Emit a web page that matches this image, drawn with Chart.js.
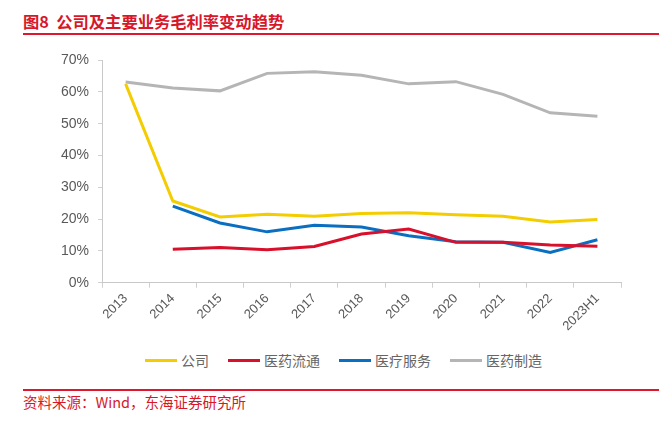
<!DOCTYPE html>
<html>
<head>
<meta charset="utf-8">
<script src="https://cdn.jsdelivr.net/npm/chart.js@4.4.0/dist/chart.umd.min.js"></script>
<style>
  body { margin: 0; width: 659px; height: 421px; background: #fff; position: relative; overflow: hidden;
         font-family: "Noto Sans CJK SC", "Liberation Sans", sans-serif; }
  #title { position: absolute; left: 23px; top: 10px; font-size: 16.3px; font-weight: bold; color: #d7182a; line-height: 22px; white-space: nowrap; }
  #topline { position: absolute; left: 23px; right: 0; top: 33px; height: 2px; background: #e0182f; }
  #bottomline { position: absolute; left: 23px; right: 0; top: 389px; height: 2px; background: #e0182f; }
  #source { position: absolute; left: 23px; top: 392px; font-size: 14.5px; line-height: 20px; color: #d7182a; white-space: nowrap; }
  #wrap { position: absolute; left: 0; top: 40px; width: 659px; height: 300px; }
  #legend { position: absolute; left: 145px; top: 350px; height: 20px; display: flex; align-items: center; white-space: nowrap; }
  .item { display: flex; align-items: center; margin-right: 19px; font-size: 14px; color: #666; }
  .swatch { width: 32px; height: 3px; margin-right: 4px; }
</style>
</head>
<body>
<div id="title">图8&nbsp; 公司及主要业务毛利率变动趋势</div>
<div id="topline"></div>
<div id="wrap"><canvas id="marginChart"></canvas></div>
<div id="legend"></div>
<div id="bottomline"></div>
<div id="source">资料来源：Wind，东海证券研究所</div>
<script>
// categories and gross margin series (%)
const years = ['2013', '2014', '2015', '2016', '2017', '2018', '2019', '2020', '2021', '2022', '2023H1'];
const company = [62.5, 25.7, 20.7, 21.5, 20.9, 21.8, 22.0, 21.4, 20.9, 19.1, 19.9];
const distribution = [null, 10.5, 11.1, 10.4, 11.4, 15.3, 16.9, 12.7, 12.7, 11.9, 11.5];
const medService = [null, 24.1, 18.8, 16.0, 18.1, 17.5, 14.8, 12.9, 12.7, 9.5, 13.5];
const manufacturing = [63.1, 61.2, 60.3, 65.8, 66.3, 65.2, 62.5, 63.2, 59.2, 53.4, 52.3];
const yTicks = [0, 10, 20, 30, 40, 50, 60, 70];

function makeLine(label, data, color) {
    return {
        label: label,
        data: data,
        borderColor: color,
        backgroundColor: color,
        borderWidth: 3,
        pointRadius: 0,
        tension: 0,
        spanGaps: false
    };
}

// Legend built in HTML from the chart's datasets
function buildLegend(chart) {
    const box = document.getElementById('legend');
    chart.data.datasets.forEach(ds => {
        const item = document.createElement('div');
        item.className = 'item';
        const sw = document.createElement('span');
        sw.className = 'swatch';
        sw.style.background = ds.borderColor;
        item.appendChild(sw);
        item.appendChild(document.createTextNode(ds.label));
        box.appendChild(item);
    });
}

document.addEventListener('DOMContentLoaded', function() {
    const ctx = document.getElementById('marginChart').getContext('2d');
    const chart = new Chart(ctx, {
        type: 'line',
        data: {
            labels: years,
            datasets: [
                makeLine('公司', company, '#f3cd00'),
                makeLine('医药流通', distribution, '#d8102b'),
                makeLine('医疗服务', medService, '#0b6fc1'),
                makeLine('医药制造', manufacturing, '#b5b5b5')
            ]
        },
        options: {
            responsive: true,
            maintainAspectRatio: false,
            animation: false,
            layout: { padding: { left: 52, right: 38, top: 20, bottom: 3 } },
            plugins: {
                tooltip: { enabled: false },
                legend: { display: false }
            },
            scales: {
                x: {
                    offset: true,
                    grid: { offset: true, drawOnChartArea: false, drawTicks: true, tickLength: 5, color: '#d0d0d0' },
                    border: { color: '#c8c8c8' },
                    ticks: {
                        minRotation: 45, maxRotation: 45,
                        color: '#595959',
                        font: { size: 13, family: '"Liberation Sans", Arial, sans-serif' }
                    }
                },
                y: {
                    min: 0, max: 70,
                    afterBuildTicks: function(axis) {
                        axis.ticks = yTicks.map(v => ({ value: v }));
                    },
                    grid: { drawOnChartArea: false, drawTicks: true, tickLength: 4, color: '#d0d0d0' },
                    border: { color: '#c8c8c8' },
                    ticks: {
                        color: '#595959',
                        padding: 9,
                        font: { size: 14, family: '"Liberation Sans", Arial, sans-serif' },
                        callback: function(v) { return v + '%'; }
                    }
                }
            }
        }
    });
    buildLegend(chart);
});
</script>
</body>
</html>
